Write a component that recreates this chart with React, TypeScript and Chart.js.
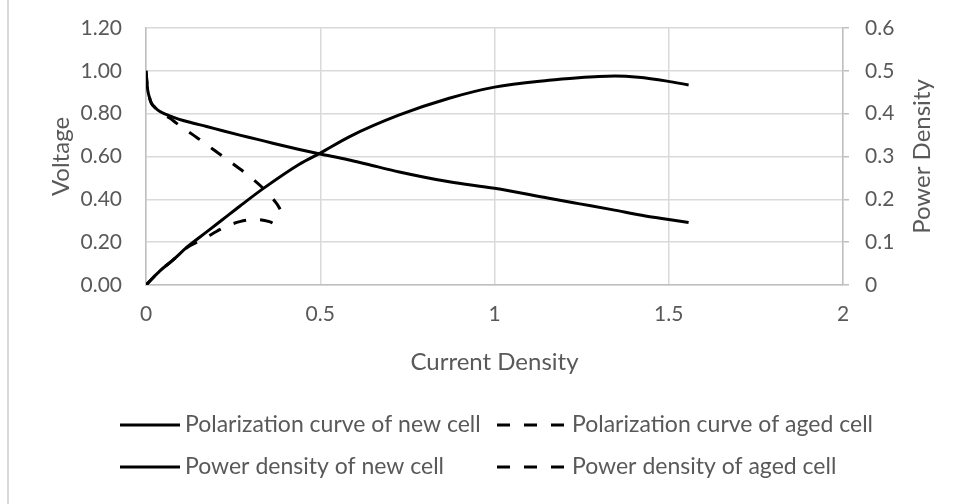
import React, { useEffect, useRef } from 'react';
import { Chart, registerables } from 'chart.js';

Chart.register(...registerables);

// ---- data ----
const polNewJ = [0, 0.002, 0.005, 0.01, 0.015, 0.025, 0.04, 0.077, 0.12, 0.174, 0.22, 0.269, 0.32, 0.364, 0.44, 0.5, 0.58, 0.632, 0.727, 0.87, 1.0, 1.156, 1.241, 1.337, 1.433, 1.5, 1.557];
const polNewV = [1.0, 0.96, 0.91, 0.875, 0.85, 0.83, 0.81, 0.784, 0.762, 0.74, 0.72, 0.7, 0.68, 0.662, 0.633, 0.612, 0.585, 0.565, 0.528, 0.482, 0.452, 0.405, 0.38, 0.352, 0.322, 0.306, 0.292];

const polAgedJ = [0, 0.002, 0.005, 0.01, 0.015, 0.025, 0.04, 0.069, 0.087, 0.135, 0.159, 0.192, 0.221, 0.26, 0.288, 0.336, 0.374, 0.385];
const polAgedV = [1.0, 0.96, 0.91, 0.875, 0.85, 0.83, 0.805, 0.779, 0.756, 0.701, 0.674, 0.634, 0.6, 0.553, 0.519, 0.452, 0.382, 0.354];

const powNewJ = [0, 0.04, 0.077, 0.12, 0.174, 0.22, 0.269, 0.336, 0.44, 0.5, 0.583, 0.727, 0.87, 1.0, 1.156, 1.241, 1.3, 1.346, 1.413, 1.495, 1.557];
const powNewP = [0, 0.033, 0.058, 0.09, 0.124, 0.153, 0.184, 0.225, 0.282, 0.308, 0.346, 0.397, 0.436, 0.462, 0.478, 0.484, 0.487, 0.488, 0.485, 0.476, 0.467];

const powAgedJ = [0, 0.04, 0.077, 0.115, 0.173, 0.202, 0.24, 0.269, 0.316, 0.354, 0.37];
const powAgedP = [0, 0.033, 0.058, 0.086, 0.111, 0.125, 0.14, 0.148, 0.153, 0.148, 0.142];

const seriesLabels = [
  'Polarization curve of new cell',
  'Polarization curve of aged cell',
  'Power density of new cell',
  'Power density of aged cell',
];

const xTitle = 'Current Density';
const yTitle = 'Voltage';
const y1Title = 'Power Density';

// ---- style ----
const FONT = 'Lato, "Noto Sans", sans-serif';
const TEXT = '#595959';
const GRID = '#d9d9d9';
const AXIS = '#bfbfbf';
const TICK_SIZE = 21;
const TITLE_SIZE = 24;
const LEGEND_SIZE = 23;
const DASH = [13, 14];

const pts = (xs: number[], ys: number[]) => xs.map((x, i) => ({ x, y: ys[i] }));

const decorPlugin = {
  id: 'decor',
  beforeDraw(chart: any) {
    const ctx = chart.ctx;
    ctx.save();
    ctx.fillStyle = '#ffffff';
    ctx.fillRect(0, 0, chart.width, chart.height);
    ctx.fillStyle = GRID;
    ctx.fillRect(7, 0, 2, chart.height);
    ctx.restore();
  },
  afterDraw(chart: any) {
    const ctx = chart.ctx;
    const area = chart.chartArea;
    ctx.save();
    ctx.font = `${TITLE_SIZE}px ${FONT}`;
    ctx.fillStyle = TEXT;
    ctx.textAlign = 'center';
    ctx.textBaseline = 'middle';
    ctx.translate(922, (area.top + area.bottom) / 2);
    ctx.rotate(-Math.PI / 2);
    ctx.fillText(y1Title, 0, 0);
    ctx.restore();

    const slots = [
      { x: 120, len: 60, y: 425 },
      { x: 497, len: 67, y: 425 },
      { x: 120, len: 60, y: 467 },
      { x: 497, len: 67, y: 467 },
    ];
    chart.data.datasets.forEach((ds: any, i: number) => {
      const s = slots[i];
      ctx.save();
      ctx.strokeStyle = ds.borderColor;
      ctx.lineWidth = ds.borderWidth;
      ctx.lineCap = 'butt';
      ctx.setLineDash(ds.borderDash || []);
      ctx.beginPath();
      ctx.moveTo(s.x, s.y);
      ctx.lineTo(s.x + s.len, s.y);
      ctx.stroke();
      ctx.setLineDash([]);
      ctx.font = `${LEGEND_SIZE}px ${FONT}`;
      ctx.fillStyle = TEXT;
      ctx.textAlign = 'left';
      ctx.textBaseline = 'middle';
      ctx.fillText(ds.label, (i % 2 === 0 ? 180 : 567) + 5, s.y);
      ctx.restore();
    });
  },
};

export default function App() {
  const ref = useRef<HTMLCanvasElement | null>(null);

  useEffect(() => {
    if (!ref.current) return;
    const line = (label: string, data: any[], axis: string, dashed: boolean) => ({
      label,
      data,
      yAxisID: axis,
      showLine: true,
      borderColor: '#000000',
      backgroundColor: '#000000',
      borderWidth: 3,
      borderDash: dashed ? DASH : [],
      pointRadius: 0,
      pointHoverRadius: 0,
      cubicInterpolationMode: 'monotone',
      fill: false,
    });

    const chart = new Chart(ref.current, {
      type: 'scatter',
      data: {
        datasets: [
          line(seriesLabels[0], pts(polNewJ, polNewV), 'y', false),
          line(seriesLabels[1], pts(polAgedJ, polAgedV), 'y', true),
          line(seriesLabels[2], pts(powNewJ, powNewP), 'y1', false),
          line(seriesLabels[3], pts(powAgedJ, powAgedP), 'y1', true),
        ] as any,
      },
      options: {
        animation: false,
        responsive: false,
        layout: { padding: { top: 28, left: 0, right: 0, bottom: 119 } },
        plugins: {
          legend: { display: false },
          tooltip: { enabled: false },
        },
        scales: {
          x: {
            type: 'linear',
            min: 0,
            max: 2,
            ticks: {
              stepSize: 0.5,
              padding: 17,
              color: TEXT,
              font: { family: FONT, size: TICK_SIZE },
              callback: (v: any) => String(Math.round(Number(v) * 10) / 10),
            },
            grid: { color: GRID, lineWidth: 1.5, drawTicks: false },
            border: { color: AXIS, width: 1.5 },
            title: {
              display: true,
              text: xTitle,
              color: TEXT,
              font: { family: FONT, size: TITLE_SIZE },
              padding: { top: 0, bottom: 8 },
            },
            afterFit: (s: any) => { s.height = 100; },
          },
          y: {
            type: 'linear',
            position: 'left',
            min: 0,
            max: 1.2,
            ticks: {
              stepSize: 0.2,
              padding: 24,
              color: TEXT,
              font: { family: FONT, size: TICK_SIZE },
              callback: (v: any) => Number(v).toFixed(2),
            },
            grid: { color: GRID, lineWidth: 1.5, drawTicks: false },
            border: { color: AXIS, width: 1.5 },
            title: {
              display: true,
              text: yTitle,
              color: TEXT,
              font: { family: FONT, size: TITLE_SIZE },
              padding: { top: 47, bottom: 0 },
            },
            afterFit: (s: any) => { s.width = 146; s.paddingTop = 0; s.paddingBottom = 0; },
          },
          y1: {
            type: 'linear',
            position: 'right',
            min: 0,
            max: 0.6,
            ticks: {
              stepSize: 0.1,
              padding: 16,
              color: TEXT,
              font: { family: FONT, size: TICK_SIZE },
              callback: (v: any) => (Math.abs(v) < 1e-9 ? '0' : Number(v).toFixed(1)),
            },
            grid: { drawOnChartArea: false, color: AXIS, lineWidth: 1.5, drawTicks: true, tickLength: 6 },
            border: { color: AXIS, width: 1.5 },
            afterFit: (s: any) => { s.width = 117; s.paddingTop = 0; s.paddingBottom = 0; },
          },
        },
      } as any,
      plugins: [decorPlugin],
    });
    return () => chart.destroy();
  }, []);

  return (
    <div style={{ position: 'absolute', left: 0, top: 0, width: 960, height: 504, background: '#fff' }}>
      <canvas ref={ref} width={960} height={504} style={{ display: 'block', width: 960, height: 504 }} />
    </div>
  );
}
